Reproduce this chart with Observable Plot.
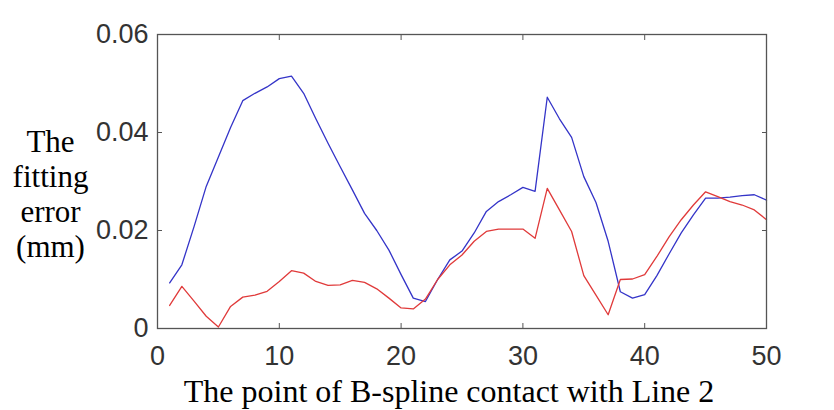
<!DOCTYPE html>
<html><head><meta charset="utf-8">
<script src="https://cdn.jsdelivr.net/npm/d3@7"></script>
<script src="https://cdn.jsdelivr.net/npm/@observablehq/plot@0.6"></script>
<style>body{margin:0;background:#fff} svg{display:block}</style>
</head><body><div id="chart"></div>
<script>
const points = [1,2,3,4,5,6,7,8,9,10,11,12,13,14,15,16,17,18,19,20,21,22,23,24,25,26,27,28,29,30,31,32,33,34,35,36,37,38,39,40,41,42,43,44,45,46,47,48,49,50];
const blueErr = [0.0093,0.0130,0.0208,0.0290,0.0350,0.0410,0.0465,0.0480,0.0493,0.0510,0.0515,0.0480,0.0428,0.0378,0.0330,0.0283,0.0235,0.0200,0.0160,0.0110,0.0062,0.0055,0.0100,0.0140,0.0158,0.0195,0.0239,0.0259,0.0273,0.0288,0.0280,0.0472,0.0428,0.0390,0.0310,0.0257,0.0178,0.0075,0.0062,0.0069,0.0108,0.0152,0.0195,0.0232,0.0266,0.0266,0.0268,0.0271,0.0273,0.0262];
const redErr = [0.0047,0.0086,0.0056,0.0025,0.0003,0.0045,0.0064,0.0068,0.0076,0.0096,0.0118,0.0113,0.0096,0.0088,0.0089,0.0098,0.0094,0.0081,0.0062,0.0042,0.0040,0.0060,0.0100,0.0130,0.0150,0.0178,0.0198,0.0203,0.0203,0.0203,0.0184,0.0286,0.0242,0.0198,0.0108,0.0068,0.0028,0.0100,0.0101,0.0110,0.0147,0.0187,0.0222,0.0252,0.0279,0.0269,0.0259,0.0252,0.0242,0.0222];
const xTicks = [0,10,20,30,40,50];
const yTicks = [0,0.02,0.04,0.06];
const yTickLabels = ["0","0.02","0.04","0.06"];
const xLabel = "The point of B-spline contact with Line 2";
const yLabel = "The\nfitting\nerror\n(mm)";

const blueData = points.map((p,i)=>({x:p, y:blueErr[i]}));
const redData = points.map((p,i)=>({x:p, y:redErr[i]}));

const sans = "'Liberation Sans', Arial, Helvetica, sans-serif";
const serif = "'Liberation Serif', 'Times New Roman', serif";

const chart = Plot.plot({
  width: 834,
  height: 410,
  marginLeft: 157,
  marginRight: 68,
  marginTop: 34,
  marginBottom: 82,
  style: {background: "#fff", fontFamily: sans},
  x: {domain: [0,50]},
  y: {domain: [0,0.06]},
  marks: [
    Plot.line(blueData, {x:"x", y:"y", stroke:"#3434c8", strokeWidth:1.3}),
    Plot.line(redData, {x:"x", y:"y", stroke:"#e03a3a", strokeWidth:1.3}),
    Plot.frame({stroke:"#555", strokeWidth:1.3}),
    Plot.axisX({anchor:"bottom", ticks:xTicks, tickSize:-5, tickPadding:22, fontSize:27, fill:"#333", stroke:"#555", label:null, fontFamily:sans}),
    Plot.axisX({anchor:"top", ticks:xTicks, tickSize:-5, tickFormat:()=>"", stroke:"#555", label:null}),
    Plot.axisY({anchor:"left", ticks:yTicks, tickSize:-5, tickPadding:14, fontSize:27, fill:"#333", stroke:"#555", label:null, fontFamily:sans, tickFormat:(d)=>yTickLabels[yTicks.indexOf(d)] ?? ""}),
    Plot.axisY({anchor:"right", ticks:yTicks, tickSize:-5, tickFormat:()=>"", stroke:"#555", label:null}),
    Plot.text([xLabel], {frameAnchor:"bottom", dy:63, dx:-13, fontSize:32, fontFamily:serif, fill:"#000", lineAnchor:"middle"}),
    Plot.text([yLabel], {frameAnchor:"left", dx:-107, dy:12, fontSize:31, fontFamily:serif, fill:"#000", textAnchor:"middle", lineAnchor:"middle", lineHeight:1.13})
  ]
});
document.getElementById("chart").appendChild(chart);
</script>
</body></html>
